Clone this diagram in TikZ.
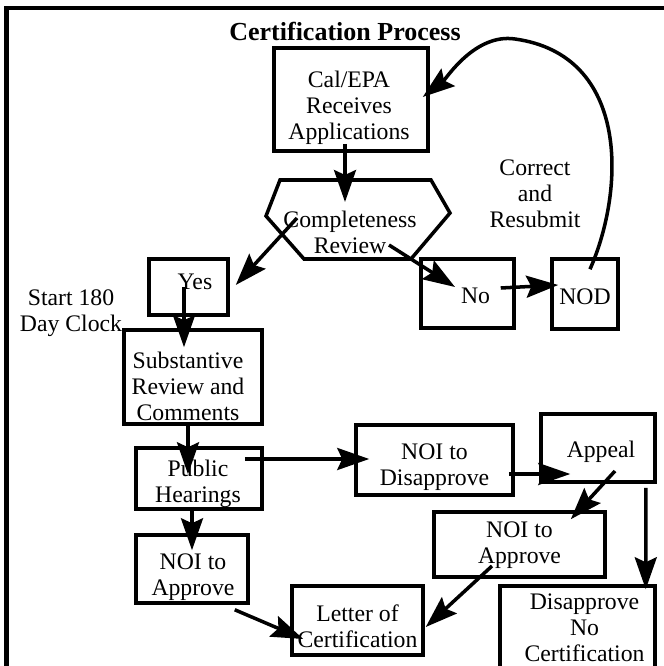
\documentclass[tikz,border=0pt]{standalone}
\usepackage{fontspec}
\setmainfont{Liberation Serif}
\usepackage{tikz}
\usetikzlibrary{arrows.meta}
\usetikzlibrary{calc}
\tikzset{
    box/.style={draw, line width=2pt, inner sep=0pt},
    txt/.style={inner sep=0pt, align=center, font=\fontsize{13.5}{14.7}\selectfont},
    flow/.style={line width=2pt, -{Stealth[length=0.64cm,width=0.44cm,inset=0.1cm]}}
}

\begin{document}
\begin{tikzpicture}[x=0.02cm, y=-0.02cm]
\useasboundingbox (0,0) rectangle (663,666);
\draw[line width=2.4pt] (6.5,690) |- (690,8);
\node[txt, font=\fontsize{14.8}{16}\selectfont\bfseries] (title) at (345,31) {Certification Process};
\foreach \p/\x/\y/\w/\h/\dx/\dy/\t in {cal/351/99.5/154/103/-2/8/{Cal/EPA\\Receives\\Applications}, yes/188.5/287/79/56/6.5/-5.5/{Yes}, no/467.5/293.5/93/69/8/2.5/{No}, nod/585/294/66/70/0/3/{NOD}, sub/193/377/138/94/-5/9.5/{Substantive\\Review and\\Comments}, pub/199/478.5/126/61/-1/5.5/{Public\\Hearings}, dis/434.5/460/157/70/0/7.5/{NOI to\\Disapprove}, app/598/448/114/68/3/3.5/{Appeal}, noil/192/569/112/68/1/8/{NOI to\\Approve}, noir/519.5/544.5/171/65/0/1/{NOI to\\Approve}, let/357.5/620.5/131/69/0/5.5/{Letter of\\Certification}, dno/577.5/630/155/88/7/-2.5/{Disapprove\\No\\Certification}}{
    \node[box, minimum width=\w*0.02cm, minimum height=\h*0.02cm] (\p) at (\x,\y) {};
    \node[txt] (\p-t) at ([shift={(\dx,\dy)}]\p.center) {\t};
}
\draw[line width=2pt] (280,180) -- (431,180) -- (450,213) -- (411,259) -- (304,259) -- (266,216) -- cycle;
\node[txt] (rev) at (350,232) {Completeness\\Review};
\node[txt] (clock) at (71,313) {Start 180\\Day Clock};
\node[txt] (resub) at (535,194) {Correct\\and\\Resubmit};
\draw[flow] ([shift={(-6,-9)}]cal.south) -- ([shift={(-5,-30)}]rev.center);
\draw[flow] ([shift={(-53,-14)}]rev.center) -- ([shift={(6,-2)}]yes.east);
\draw[flow] ([shift={(39,13)}]rev.center) -- ([shift={(-12.5,-6.5)}]no.center);
\draw[flow] ([shift={(-15,-5.5)}]no.east) -- ([shift={(8,-9)}]nod.west);
\draw[flow] ([shift={(5,12)}]nod.north) .. controls (625,190) and (630,55) .. (515,39) .. controls (475,33) and (446,79) .. ([shift={(-7,-2.5)}]cal.east);
\draw[flow] ([shift={(-4.5,0)}]yes.center) -- ([shift={(-9,19)}]sub.north);
\draw[flow] ([shift={(-5,-4)}]sub.south) -- ([shift={(-11,28)}]pub.north);
\draw[flow] ([shift={(-7,-4)}]pub.south) -- ([shift={(0,17)}]noil.north);
\draw[flow] ([shift={(-19,-19.5)}]pub.east) -- ([shift={(15,-1)}]dis.west);
\draw[flow] ([shift={(-6,14)}]dis.east) -- ([shift={(31,26)}]app.west);
\draw[flow] ([shift={(17,23)}]app.center) -- ([shift={(-36,9)}]noir.north east);
\draw[flow] ([shift={(-11,4)}]app.south east) -- ([shift={(-11,5)}]dno.north east);
\draw[flow] ([shift={(-15,5)}]noil.south east) -- ([shift={(13,18.5)}]let.west);
\draw[flow] ([shift={(-27.5,21.5)}]noir.center) -- ([shift={(1,6.5)}]let.east);
\end{tikzpicture}
\end{document}
